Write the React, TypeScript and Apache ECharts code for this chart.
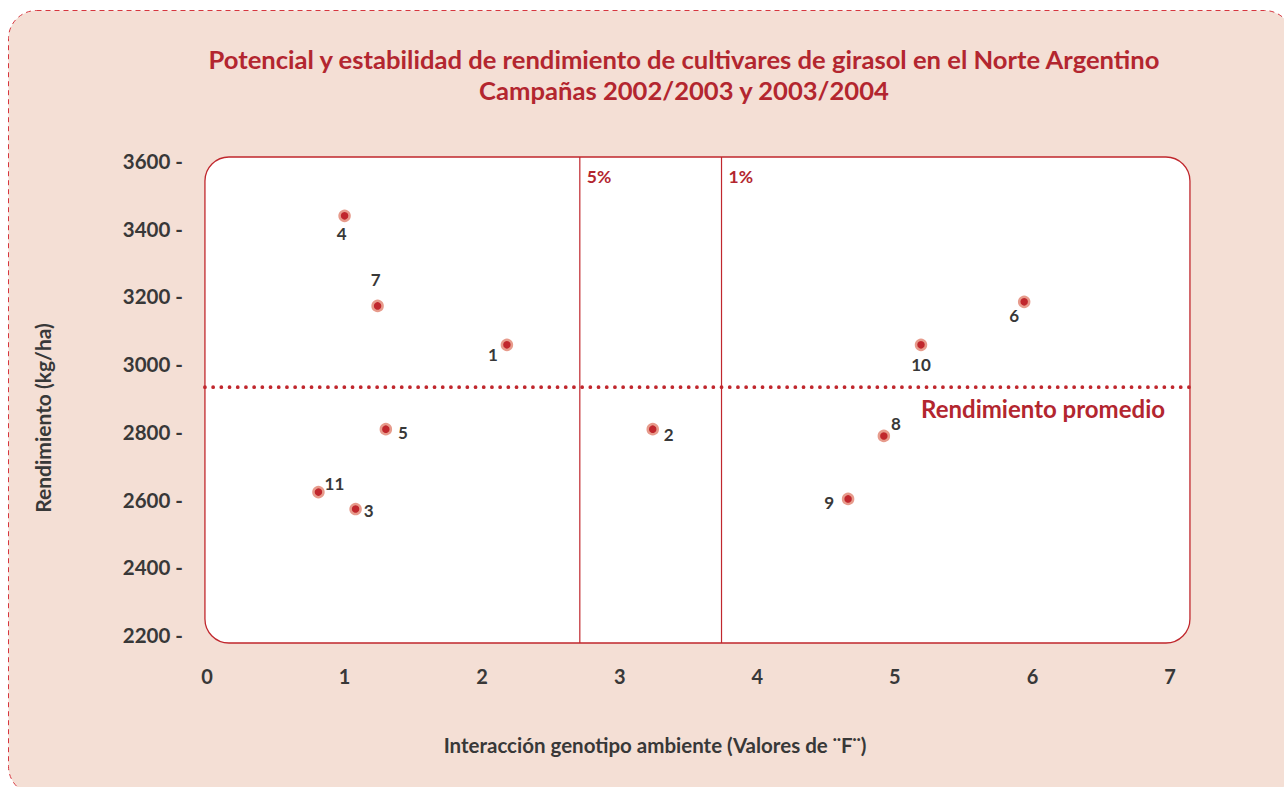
import React, { useEffect, useRef } from "react";
import * as echarts from "echarts";

// ---- Data ----
const cultivars = ["1", "2", "3", "4", "5", "6", "7", "8", "9", "10", "11"];
const interaction = [2.18, 3.24, 1.08, 1.0, 1.3, 5.94, 1.24, 4.92, 4.66, 5.19, 0.81];
const yieldKgHa = [3057, 2808, 2572, 3438, 2808, 3184, 3172, 2788, 2602, 3057, 2622];
const averageYield = 2932;
const averageLabel = "Rendimiento promedio";
const thresholdNames = ["5%", "1%"];
const thresholdValues = [2.71, 3.74];
const xMin = 0, xMax = 7, xStep = 1;
const yMin = 2200, yMax = 3600, yStep = 200;
// extent of the framed plotting box, in data units
const boxX = [-0.015, 7.145];
const boxY = [2176.4, 3611.8];

const titleText =
  "Potencial y estabilidad de rendimiento de cultivares de girasol en el Norte Argentino\nCampañas 2002/2003 y 2003/2004";
const xName = "Interacción genotipo ambiente (Valores de ¨F¨)";
const yName = "Rendimiento (kg/ha)";

// label offsets (px) relative to each point, by cultivar
const labelOffset: Record<string, [number, number]> = {
  "1": [-14, 10],
  "2": [16, 5],
  "3": [13, 1],
  "4": [-3, 18],
  "5": [17, 3],
  "6": [-10, 14],
  "7": [-2, -26],
  "8": [12, -12],
  "9": [-19, 4],
  "10": [0, 20],
  "11": [16, -9],
};

const RED = "#c0272d";
const TITLE_RED = "#b3262f";
const DARK = "#383838";
const FONT = "Lato";

export default function App() {
  const ref = useRef<HTMLDivElement>(null);
  useEffect(() => {
    if (!ref.current) return;
    const chart = echarts.init(ref.current, undefined, { renderer: "svg" });
    const points = cultivars.map((c, i) => ({
      name: c,
      value: [interaction[i], yieldKgHa[i]],
      label: { offset: labelOffset[c] },
    }));
    const thresholdSeries = thresholdValues.map((t) => ({
      type: "line",
      z: 3,
      clip: false,
      silent: true,
      symbol: "none",
      lineStyle: { color: RED, width: 1.2, type: "solid" },
      data: [
        [t, boxY[0]],
        [t, boxY[1]],
      ],
    }));
    chart.setOption({
      animation: false,
      backgroundColor: "#ffffff",
      textStyle: { fontFamily: FONT },
      title: {
        text: titleText,
        left: 679,
        top: 38,
        textAlign: "center",
        textStyle: {
          fontFamily: FONT,
          fontSize: 25.6,
          fontWeight: "bold",
          color: TITLE_RED,
          lineHeight: 31,
        },
      },
      grid: { left: 207, right: 114, top: 161, bottom: 152, containLabel: false },
      xAxis: {
        type: "value",
        min: xMin,
        max: xMax,
        interval: xStep,
        axisLine: { show: false },
        axisTick: { show: false },
        splitLine: { show: false },
        axisLabel: { margin: 31, fontFamily: FONT, fontSize: 20, fontWeight: "bold", color: DARK },
      },
      yAxis: {
        type: "value",
        min: yMin,
        max: yMax,
        interval: yStep,
        axisLine: { show: false },
        axisTick: { show: false },
        splitLine: { show: false },
        axisLabel: {
          margin: 24,
          fontFamily: FONT,
          fontSize: 20.5,
          fontWeight: "bold",
          color: DARK,
          formatter: (v: number) => v + " -",
        },
      },
      series: [
        ...thresholdSeries,
        {
          type: "scatter",
          z: 5,
          clip: false,
          symbolSize: 10,
          itemStyle: { color: RED, borderColor: "#e79b8c", borderWidth: 2.5, opacity: 1 },
          label: {
            show: true,
            position: "inside",
            formatter: "{b}",
            fontFamily: FONT,
            fontSize: 17,
            fontWeight: "bold",
            color: DARK,
          },
          data: points,
        },
      ],
    });

    const px = (x: number, y: number) =>
      chart.convertToPixel({ gridIndex: 0 }, [x, y]) as number[];
    const avgL = px(boxX[0], averageYield);
    const avgR = px(boxX[1], averageYield);
    const avgLabelPos = px(6.964, averageYield);
    const boxTL = px(boxX[0], boxY[1]);
    const boxBR = px(boxX[1], boxY[0]);
    const boldText = (size: number, color: string) => ({
      fontFamily: FONT,
      fontSize: size,
      fontWeight: "bold",
      fill: color,
    });

    chart.setOption({
      graphic: [
        {
          type: "rect",
          z: -10,
          silent: true,
          shape: { x: 8.5, y: 10.5, width: 1284, height: 784, r: 28 },
          style: { fill: "#f4dfd5", stroke: "#d6363f", lineWidth: 1, lineDash: [5, 4] },
        },
        {
          type: "rect",
          z: -9,
          silent: true,
          shape: {
            x: boxTL[0],
            y: boxTL[1],
            width: boxBR[0] - boxTL[0],
            height: boxBR[1] - boxTL[1],
            r: 24,
          },
          style: { fill: "#ffffff", stroke: RED, lineWidth: 1.3 },
        },
        {
          type: "line",
          z: 4,
          silent: true,
          shape: { x1: avgL[0], y1: avgL[1], x2: avgR[0], y2: avgR[1] },
          style: { stroke: RED, lineWidth: 3.8, lineDash: [0, 8.2], lineCap: "round" },
        },
        {
          type: "text",
          z: 4,
          silent: true,
          x: avgLabelPos[0],
          y: avgLabelPos[1] + 21,
          style: {
            ...boldText(24, TITLE_RED),
            text: averageLabel,
            align: "right",
            verticalAlign: "middle",
          },
        },
        ...thresholdNames.map((n, i) => {
          const p = px(thresholdValues[i], 3553);
          return {
            type: "text",
            z: 4,
            silent: true,
            x: p[0] + 7,
            y: p[1],
            style: { ...boldText(17.5, TITLE_RED), text: n, align: "left", verticalAlign: "middle" },
          };
        }),
        {
          type: "text",
          silent: true,
          x: 655,
          y: 745,
          style: { ...boldText(20.5, DARK), text: xName, align: "center", verticalAlign: "middle" },
        },
        {
          type: "text",
          silent: true,
          x: 42,
          y: 418,
          rotation: Math.PI / 2,
          style: { ...boldText(21, DARK), text: yName, align: "center", verticalAlign: "middle" },
        },
      ],
    });
    return () => chart.dispose();
  }, []);
  return (
    <div
      ref={ref}
      style={{ position: "absolute", left: 0, top: 0, width: 1284, height: 787 }}
    />
  );
}
